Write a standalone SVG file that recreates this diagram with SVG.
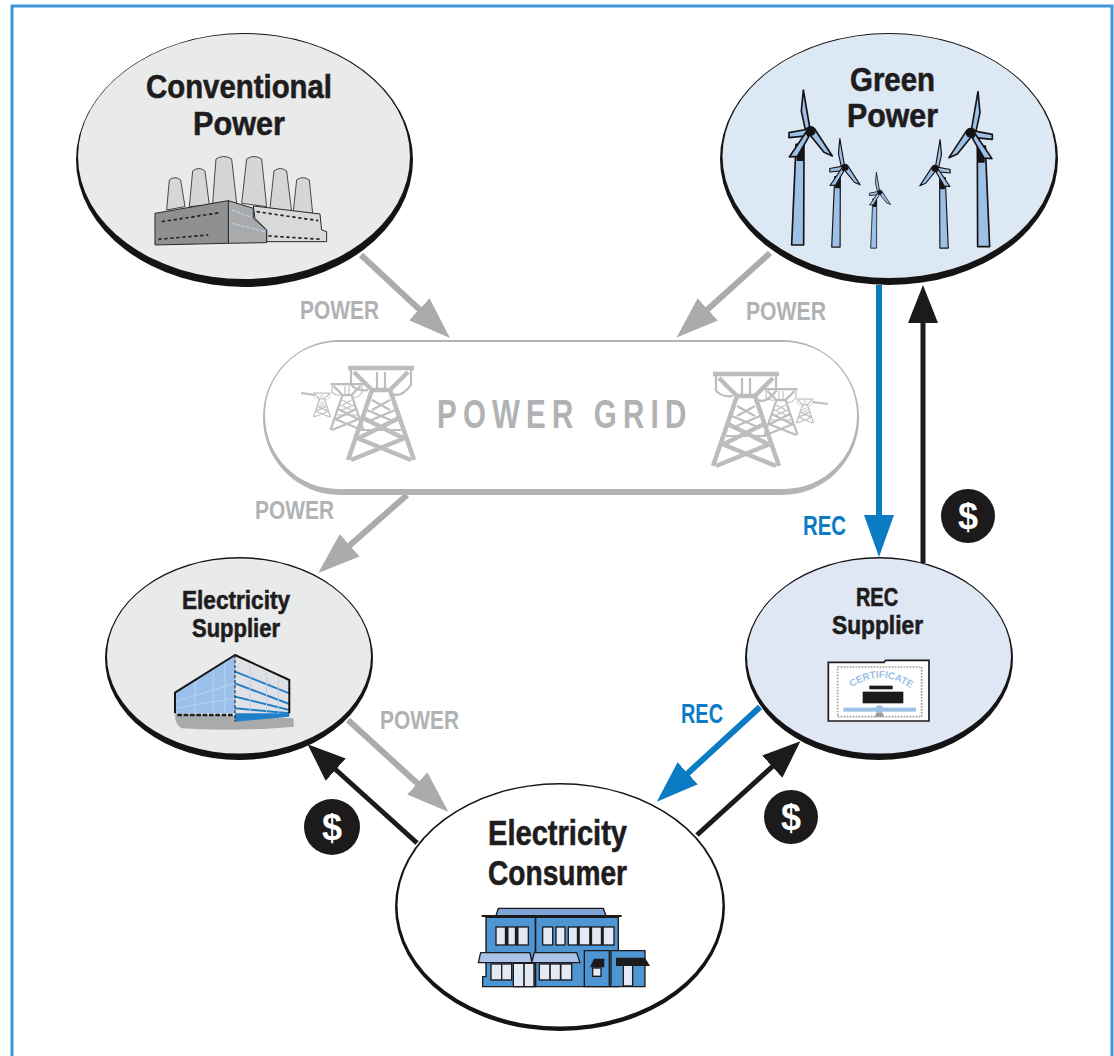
<svg xmlns="http://www.w3.org/2000/svg" xmlns:xlink="http://www.w3.org/1999/xlink" width="1114" height="1056" viewBox="0 0 1114 1056">
<style>
text{font-family:"Liberation Sans",Arial,sans-serif;font-weight:700}
.t{fill:#1f1c1d;stroke:#1f1c1d;stroke-width:.6}
.l{fill:#b0b2b4}
.b{fill:#0b7cc4}
.shadow{fill:#161314}
.cg{stroke:#a9abad;stroke-width:6;fill:none}
.ck{stroke:#1d1a1b;stroke-width:5;fill:none}
.cb{stroke:#0b7cc4;stroke-width:6;fill:none}
.dollar{fill:#fff;font-size:36px;text-anchor:middle}
.ic{stroke:#2a2829;stroke-width:3;stroke-linejoin:round}
.win{fill:#e3e9f5;stroke:#1d1a1b;stroke-width:4}
.sblue{fill:#4d96d3;stroke:#1d1a1b;stroke-width:4}
.awn{fill:#a9c4e8;stroke:#1d1a1b;stroke-width:4;stroke-linejoin:round}
.tw{fill:none;stroke:#bbbdbf;stroke-width:2.2}
.twb{fill:none;stroke:#bbbdbf;stroke-width:4.5}
.blade{fill:#9cc0e6;stroke:#161314;stroke-width:5;stroke-linejoin:round}
</style>
<defs>
<marker id="hg" markerUnits="userSpaceOnUse" markerWidth="44" markerHeight="32" refX="1" refY="16" orient="auto"><path d="M0,1L42,16L0,31Z" fill="#a9abad"/></marker>
<marker id="hk" markerUnits="userSpaceOnUse" markerWidth="40" markerHeight="32" refX="1" refY="16" orient="auto"><path d="M0,1L38,16L0,31Z" fill="#1d1a1b"/></marker>
<marker id="hb" markerUnits="userSpaceOnUse" markerWidth="44" markerHeight="32" refX="1" refY="16" orient="auto"><path d="M0,1L42,16L0,31Z" fill="#0b7cc4"/></marker>
<g id="turbine">
<path d="M-44,40L-20,40L-21,342L-57,342Z" fill="#9cc0e6" stroke="#161314" stroke-width="5" stroke-linejoin="round"/>
<path d="M-44,40L-20,40L-20,90L-42,90Z" fill="#161314"/>
<path d="M-22,-123L-3,-12L-16,-4L-28,-60Z" class="blade"/>
<path d="M65,75L12,-6L-2,12L40,64Z" class="blade"/>
<path d="M-65,5L-5,-6L-4,14L-65,20Z" class="blade"/>
<path d="M-64,78L-14,4L-6,18L-40,76Z" class="blade"/>
<circle r="15" fill="#161314"/>
</g>
<g id="pylon">
<path class="twb" d="M-33,-92H33"/>
<path class="tw" d="M-30,-94V-75M30,-94V-75Q20,-62 12,-66M-30,-75Q-22,-68 -13,-70"/>
<path class="twb" d="M-27,-88L-9,-70M27,-88L9,-70M-9,-70L-33,0M9,-70L33,0M-9,-70H9"/>
<path class="twb" d="M-18,-42L22,-22M18,-42L-22,-22M-24,-22L30,0M24,-22L-30,0"/>
<path class="tw" d="M-9,-60L9,-50M9,-60L-9,-50M-14,-50L14,-38M14,-50L-14,-38M-20,-30H20M-4,-88V-72M4,-88V-72"/>
</g>
</defs>

<path d="M12,1056V6H1112V1056" fill="none" stroke="#3b97d8" stroke-width="3"/>

<g id="connectors">
<path class="cg" d="M361,255L420,310" marker-end="url(#hg)"/>
<path class="cg" d="M770,253L707,310" marker-end="url(#hg)"/>
<path class="cg" d="M407,495L349,546" marker-end="url(#hg)"/>
<path class="cg" d="M348,720L418,784" marker-end="url(#hg)"/>
<path class="ck" d="M417,843L335,769" marker-end="url(#hk)"/>
<path class="cb" d="M760,707L687,774" marker-end="url(#hb)"/>
<path class="ck" d="M697,835L773,766" marker-end="url(#hk)"/>
<path class="cb" d="M879,285V516" marker-end="url(#hb)"/>
<path class="ck" d="M923,563V322" marker-end="url(#hk)"/>
</g>

<g id="conventional-power">
<ellipse class="shadow" cx="244.500" cy="160" rx="168.500" ry="127"/>
<ellipse cx="244" cy="156.500" rx="166" ry="122.500" fill="#e9ebea"/>
<text class="t" x="146" y="98" font-size="34" textLength="186" lengthAdjust="spacingAndGlyphs">Conventional</text>
<text class="t" x="193" y="135" font-size="34" textLength="92" lengthAdjust="spacingAndGlyphs">Power</text>
<g transform="translate(70,30) scale(.3333)">
<g fill="#d5d6d7" stroke="#2a2829" stroke-width="2.500" stroke-linejoin="round">
<path d="M290,540L298,450Q315,436 332,450L345,530Z"/><path d="M358,530L368,423Q386,408 405,423L418,525Z"/><path d="M428,520L438,387Q461,372 485,387L500,520Z"/><path d="M515,520L530,387Q552,372 575,387L590,530Z"/><path d="M600,535L612,423Q631,408 650,423L665,545Z"/><path d="M670,545L680,450Q699,436 718,450L728,550Z"/>
</g>
<path class="ic" fill="#d8d9da" d="M550,528L750,552L755,600L770,605L770,635L590,635L590,600L555,565Z"/>
<path class="ic" fill="#a8aaac" d="M475,512L550,535L550,565L590,600L590,638L475,640Z"/>
<path class="ic" fill="#8e9092" d="M255,550L475,512L475,640L255,645Z"/>
<path d="M275,575L450,548M265,628L415,615M560,545L745,572M595,618L755,628" fill="none" stroke="#222" stroke-width="5" stroke-dasharray="10 8"/>
<path d="M485,540L545,562M485,580L585,605" fill="none" stroke="#b6cfe9" stroke-width="4" stroke-dasharray="12 3"/>
</g>
</g>

<g id="green-power">
<ellipse class="shadow" cx="889" cy="159" rx="169" ry="126"/>
<ellipse cx="889" cy="156" rx="166.500" ry="122" fill="#dde8f5"/>
<text class="t" x="850" y="91" font-size="33" textLength="85" lengthAdjust="spacingAndGlyphs">Green</text>
<text class="t" x="847" y="127" font-size="33" textLength="91" lengthAdjust="spacingAndGlyphs">Power</text>
<g transform="translate(715,30) scale(.3333)">
<use xlink:href="#turbine" href="#turbine" transform="translate(287,303)"/>
<use xlink:href="#turbine" href="#turbine" transform="translate(390,412) scale(.7)"/>
<use xlink:href="#turbine" href="#turbine" transform="translate(495,487) scale(.49)"/>
<use xlink:href="#turbine" href="#turbine" transform="translate(660,415) scale(-.7,.7)"/>
<use xlink:href="#turbine" href="#turbine" transform="translate(767,308) scale(-1,1)"/>
</g>
</g>

<g id="power-grid">
<rect x="263" y="340" width="596" height="155" rx="77" fill="#b2b4b6"/>
<rect x="265" y="342" width="592" height="147" rx="73" fill="#fff"/>
<text class="l" transform="translate(437,428) scale(.72,1)" font-size="41" letter-spacing="8.600">POWER GRID</text>
<use xlink:href="#pylon" href="#pylon" transform="translate(322,417) scale(.26)"/>
<use xlink:href="#pylon" href="#pylon" transform="translate(347,430) scale(.5)"/>
<use xlink:href="#pylon" href="#pylon" transform="translate(381,460)"/>
<use xlink:href="#pylon" href="#pylon" transform="translate(805,423) scale(.26)"/>
<use xlink:href="#pylon" href="#pylon" transform="translate(781,435) scale(.5)"/>
<use xlink:href="#pylon" href="#pylon" transform="translate(746,466)"/>
<path class="tw" d="M301,393L315,395M813,402L828,404"/>
</g>

<g id="electricity-supplier">
<ellipse class="shadow" cx="239" cy="658.500" rx="134" ry="101.500"/>
<ellipse cx="239" cy="656" rx="132" ry="97.500" fill="#e9ebea"/>
<text class="t" x="182" y="609" font-size="25.500" textLength="108" lengthAdjust="spacingAndGlyphs">Electricity</text>
<text class="t" x="192" y="637" font-size="25.500" textLength="88" lengthAdjust="spacingAndGlyphs">Supplier</text>
<g transform="translate(100,550) scale(.3333)">
<path d="M225,490L580,505L582,530Q400,545 245,535Q225,525 225,490Z" fill="#a8aaac"/>
<path d="M225,428L405,315V490H225Z" fill="#9cc0ec"/>
<path d="M405,315L568,390V490H405Z" fill="#dfe1e6"/>
<path d="M405,490H568V500L405,515Z" fill="#1f7fc9"/>
<path d="M405,365L568,430M405,400L568,462M405,440L568,480M405,475L568,490" stroke="#1f7fc9" stroke-width="6" fill="none"/>
<path d="M450,345V490M500,365V490M535,382V490" stroke="#c8cdd6" stroke-width="3" fill="none"/>
<path d="M225,455L405,400M225,475L405,445M285,395V490M340,360V490M375,335V490" stroke="#b9d3f1" stroke-width="3" fill="none"/>
<path d="M225,490V428L405,315L568,390V490" fill="none" stroke="#161314" stroke-width="6" stroke-linejoin="round"/>
<path d="M405,315V515" stroke="#161314" stroke-width="3" stroke-dasharray="10 5" fill="none"/>
<path d="M232,495H400" stroke="#222" stroke-width="8" stroke-dasharray="14 5" fill="none"/>
</g>
</g>

<g id="rec-supplier">
<ellipse class="shadow" cx="879" cy="658.500" rx="134" ry="101.500"/>
<ellipse cx="879" cy="656" rx="132" ry="97.500" fill="#e0e7f4"/>
<text class="t" x="856" y="606" font-size="25" textLength="42" lengthAdjust="spacingAndGlyphs">REC</text>
<text class="t" x="832" y="634" font-size="25" textLength="91" lengthAdjust="spacingAndGlyphs">Supplier</text>
<g transform="translate(740,550) scale(.3333)">
<path d="M265,337H432L437,331H567V513H265Z" fill="#fff" stroke="#1d1a1b" stroke-width="5"/>
<rect x="293" y="351" width="252" height="149" fill="none" stroke="#9a9c9e" stroke-width="5" stroke-dasharray="5 4"/>
<path id="certarc" d="M335,412Q420,355 508,412" fill="none"/>
<text font-size="30" fill="#9cc0e6"><textPath href="#certarc" xlink:href="#certarc" startOffset="0" textLength="190" lengthAdjust="spacingAndGlyphs">CERTIFICATE</textPath></text>
<rect x="388" y="407" width="70" height="11" fill="#1d1a1b"/>
<rect x="368" y="425" width="122" height="35" fill="#1d1a1b"/>
<rect x="310" y="473" width="218" height="12" fill="#9cc0e6"/>
<path d="M405,500H432L428,488H409Z" fill="#9a9c9e"/>
<circle cx="418" cy="478" r="12" fill="#9cc0e6"/>
</g>
</g>

<g id="electricity-consumer">
<ellipse class="shadow" cx="560" cy="907" rx="165" ry="124"/>
<ellipse cx="560" cy="905.500" rx="162.500" ry="121" fill="#fff"/>
<text class="t" x="488" y="845" font-size="35" textLength="139" lengthAdjust="spacingAndGlyphs">Electricity</text>
<text class="t" x="488" y="885" font-size="35" textLength="139" lengthAdjust="spacingAndGlyphs">Consumer</text>
<g transform="translate(390,790) scale(.3333)">
<path d="M318,377L325,355H640L648,377Z" fill="#7da6d6" stroke="#1d1a1b" stroke-width="4" stroke-linejoin="round"/>
<path class="sblue" d="M288,382H436V590H278V560H288Z"/>
<path class="sblue" d="M437,382H685V590H437Z"/>
<path d="M275,378H695" stroke="#1d1a1b" stroke-width="6"/>
<path class="sblue" d="M583,482H658V590H583Z"/>
<path class="sblue" d="M663,482H765V590H663Z"/>
<rect class="win" x="318" y="411" width="97" height="54"/>
<path d="M350,411V465M380,411V465" stroke="#1d1a1b" stroke-width="11"/>
<rect class="win" x="458" y="411" width="30" height="54"/>
<rect class="win" x="498" y="411" width="27" height="54"/>
<rect class="win" x="535" y="411" width="137" height="54"/>
<path d="M565,411V465M602,411V465M637,411V465" stroke="#1d1a1b" stroke-width="9"/>
<rect class="win" x="303" y="522" width="62" height="48"/>
<path d="M335,522V570" stroke="#1d1a1b" stroke-width="4"/>
<rect class="win" x="370" y="520" width="62" height="70"/>
<path d="M402,520V590" stroke="#1d1a1b" stroke-width="5"/>
<rect class="win" x="448" y="522" width="97" height="48"/>
<path d="M480,522V570M512,522V570" stroke="#1d1a1b" stroke-width="5"/>
<path class="awn" d="M265,518L272,488H420L426,518Z"/>
<path class="awn" d="M425,518L433,488H560L570,518Z"/>
<path d="M600,532L612,506H643V532Z" fill="#1d1a1b"/>
<rect class="win" x="608" y="534" width="25" height="25" stroke-width="3"/>
<rect class="win" x="700" y="526" width="28" height="62" stroke-width="3"/>
<path d="M678,503H765L780,528H678Z" fill="#1d1a1b"/>
</g>
</g>

<g id="connector-labels">
<text class="l" x="300" y="319" font-size="26" textLength="79" lengthAdjust="spacingAndGlyphs">POWER</text>
<text class="l" x="746" y="320" font-size="26" textLength="80" lengthAdjust="spacingAndGlyphs">POWER</text>
<text class="l" x="255" y="519" font-size="26" textLength="79" lengthAdjust="spacingAndGlyphs">POWER</text>
<text class="l" x="380" y="729" font-size="26" textLength="79" lengthAdjust="spacingAndGlyphs">POWER</text>
<text class="b" x="803" y="535" font-size="27" textLength="43" lengthAdjust="spacingAndGlyphs">REC</text>
<text class="b" x="681" y="723" font-size="27" textLength="42" lengthAdjust="spacingAndGlyphs">REC</text>
<circle cx="968" cy="516" r="27" fill="#1d1a1b"/><text class="dollar" x="968" y="529">$</text>
<circle cx="332" cy="827" r="28" fill="#1d1a1b"/><text class="dollar" x="332" y="840">$</text>
<circle cx="791" cy="817" r="27" fill="#1d1a1b"/><text class="dollar" x="791" y="830">$</text>
</g>
</svg>
